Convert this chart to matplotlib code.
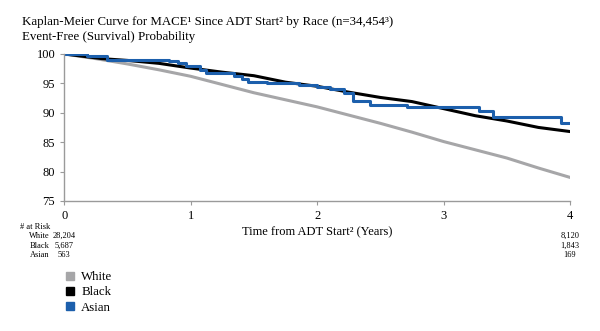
import numpy as np
import matplotlib
matplotlib.use("Agg")
import matplotlib.pyplot as plt
import matplotlib.transforms as mtransforms
from matplotlib.lines import Line2D

plt.rcParams['font.family'] = ['Liberation Serif', 'DejaVu Serif']

# curve values (years, event-free %)
white_t = [0, 0.25, 0.5, 0.75, 1.0, 1.25, 1.5, 1.75, 2.0, 2.25, 2.5, 2.75, 3.0, 3.25, 3.5, 3.75, 4.0]
white_y = [100, 99.2, 98.3, 97.3, 96.2, 94.8, 93.4, 92.2, 91.0, 89.6, 88.2, 86.7, 85.1, 83.7, 82.3, 80.6, 79.0]

black_t = [0, 0.15, 0.3, 0.5, 0.75, 1.0, 1.25, 1.5, 1.75, 2.0, 2.25, 2.5, 2.75, 3.0, 3.25, 3.5, 3.75, 4.0]
black_y = [100, 99.6, 99.2, 98.9, 98.4, 97.6, 96.9, 96.3, 95.2, 94.5, 93.5, 92.6, 91.9, 90.7, 89.5, 88.6, 87.5, 86.8]

asian_t = [0, 0.18, 0.34, 0.83, 0.9, 0.96, 1.07, 1.12, 1.34, 1.41, 1.45, 1.6, 1.86, 2.0, 2.1, 2.21, 2.28, 2.42, 2.71, 3.18, 3.28, 3.39, 3.93, 4.0]
asian_y = [100, 99.6, 99.0, 98.8, 98.5, 98.0, 97.2, 96.7, 96.3, 95.7, 95.2, 95.0, 94.7, 94.4, 94.0, 93.4, 92.0, 91.3, 90.9, 90.9, 90.3, 89.3, 88.3, 88.3]

risk_groups = ['White', 'Black', 'Asian']
risk_start = ['28,204', '5,687', '563']
risk_end = ['8,120', '1,843', '169']

c_white = '#a6a6a8'
c_black = '#000000'
c_asian = '#1c5fac'

fig = plt.figure(figsize=(6, 3.31), dpi=100)
ax = fig.add_axes([0.107, 0.393, 0.843, 0.444])

ax.plot(white_t, white_y, color=c_white, lw=2.2)
ax.plot(black_t, black_y, color=c_black, lw=2.2)
ax.plot(asian_t, asian_y, color=c_asian, lw=2.2, drawstyle='steps-post')

ax.set_xlim(0, 4)
ax.set_ylim(75, 100)
ax.set_xticks([0, 1, 2, 3, 4])
ax.set_yticks([75, 80, 85, 90, 95, 100])
for s in ['top', 'right']:
    ax.spines[s].set_visible(False)
for s in ['left', 'bottom']:
    ax.spines[s].set_color('#9a9a9a')
    ax.spines[s].set_linewidth(1.0)
ax.tick_params(colors='#9a9a9a', labelcolor='black', labelsize=9, length=3)
ax.set_xlabel('Time from ADT Start² (Years)', fontsize=9, labelpad=3)

fig.text(22 / 600, 1 - 22 / 331, 'Kaplan-Meier Curve for MACE¹ Since ADT Start² by Race (n=34,454³)',
         fontsize=9.3, va='center', ha='left')
fig.text(22 / 600, 1 - 37 / 331, 'Event-Free (Survival) Probability',
         fontsize=9.3, va='center', ha='left')

# number at risk table, counts centred under the x ticks
trans = mtransforms.blended_transform_factory(ax.transData, fig.transFigure)
fig.text(20 / 600, 1 - 227 / 331, '# at Risk', fontsize=6, va='center', ha='left')
for i, g in enumerate(risk_groups):
    yy = 1 - (236 + 9.5 * i) / 331
    fig.text(50 / 600, yy, g, fontsize=6, va='center', ha='right')
    ax.text(0, yy, risk_start[i], fontsize=6, va='center', ha='center', transform=trans)
    ax.text(4, yy, risk_end[i], fontsize=6, va='center', ha='center', transform=trans)

handles = [Line2D([], [], ls='none', marker='s', ms=6, color=c) for c in [c_white, c_black, c_asian]]
fig.legend(handles, risk_groups, loc='upper left', bbox_to_anchor=(58 / 600, 1 - 266 / 331),
           frameon=False, fontsize=9.3, handletextpad=0.4, labelspacing=0.25, borderaxespad=0,
           handlelength=1.0)

fig.savefig('out.png', dpi=100)
